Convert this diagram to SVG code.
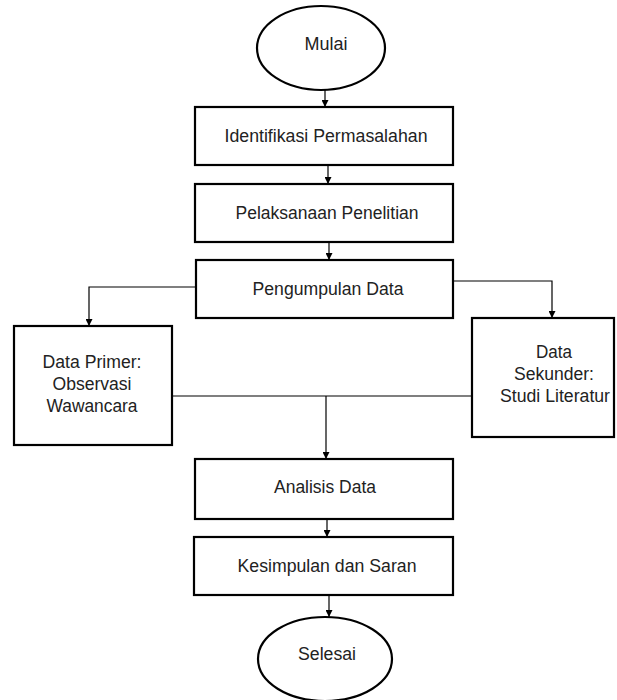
<svg xmlns="http://www.w3.org/2000/svg" width="617" height="700" viewBox="0 0 617 700">
<style>
.box{fill:#fff;stroke:#000;stroke-width:2.2}
.term{fill:#fff;stroke:#000;stroke-width:2.2}
.con{fill:none;stroke:#000;stroke-width:1.2}
text{font-family:"Liberation Sans",Arial,sans-serif;font-size:17.5px;fill:#222;text-anchor:middle}
</style>
<defs>
<marker id="ah" viewBox="0 0 8 8" refX="8" refY="4" markerWidth="7" markerHeight="7" markerUnits="userSpaceOnUse" orient="auto">
<path d="M0,0 L8,4 L0,8 Z" fill="#000"/>
</marker>
</defs>
<g id="connectors">
<line class="con" x1="325" y1="90" x2="325" y2="107" marker-end="url(#ah)"/>
<line class="con" x1="328" y1="165" x2="328" y2="184" marker-end="url(#ah)"/>
<line class="con" x1="329" y1="242" x2="329" y2="260" marker-end="url(#ah)"/>
<polyline class="con" points="196,287 89,287 89,326" marker-end="url(#ah)"/>
<polyline class="con" points="453,281 552,281 552,318" marker-end="url(#ah)"/>
<line class="con" x1="172" y1="396" x2="472" y2="396"/>
<line class="con" x1="326" y1="396" x2="326" y2="459" marker-end="url(#ah)"/>
<line class="con" x1="327" y1="519" x2="327" y2="537" marker-end="url(#ah)"/>
<line class="con" x1="329" y1="595" x2="329" y2="617" marker-end="url(#ah)"/>
</g>
<g id="mulai">
<ellipse class="term" cx="321" cy="48" rx="64" ry="42"/>
<text x="326" y="50" textLength="43" lengthAdjust="spacingAndGlyphs">Mulai</text>
</g>
<g id="identifikasi">
<rect class="box" x="195" y="107" width="258" height="58"/>
<text x="326" y="142" textLength="203" lengthAdjust="spacingAndGlyphs">Identifikasi Permasalahan</text>
</g>
<g id="pelaksanaan">
<rect class="box" x="195" y="184" width="258" height="58"/>
<text x="327" y="219" textLength="183" lengthAdjust="spacingAndGlyphs">Pelaksanaan Penelitian</text>
</g>
<g id="pengumpulan">
<rect class="box" x="196" y="260" width="257" height="58"/>
<text x="328" y="295" textLength="151" lengthAdjust="spacingAndGlyphs">Pengumpulan Data</text>
</g>
<g id="primer">
<rect class="box" x="14" y="326" width="158" height="119"/>
<text x="92" y="368" textLength="99" lengthAdjust="spacingAndGlyphs">Data Primer:</text>
<text x="92" y="390" textLength="79" lengthAdjust="spacingAndGlyphs">Observasi</text>
<text x="92" y="412" textLength="91" lengthAdjust="spacingAndGlyphs">Wawancara</text>
</g>
<g id="sekunder">
<rect class="box" x="472" y="318" width="142" height="119"/>
<text x="554" y="358" textLength="36" lengthAdjust="spacingAndGlyphs">Data</text>
<text x="554" y="380" textLength="80" lengthAdjust="spacingAndGlyphs">Sekunder:</text>
<text x="555" y="402" textLength="110" lengthAdjust="spacingAndGlyphs">Studi Literatur</text>
</g>
<g id="analisis">
<rect class="box" x="195" y="459" width="258" height="60"/>
<text x="325" y="493" textLength="102" lengthAdjust="spacingAndGlyphs">Analisis Data</text>
</g>
<g id="kesimpulan">
<rect class="box" x="194" y="537" width="259" height="58"/>
<text x="327" y="572" textLength="179" lengthAdjust="spacingAndGlyphs">Kesimpulan dan Saran</text>
</g>
<g id="selesai">
<ellipse class="term" cx="325" cy="659" rx="67" ry="42"/>
<text x="327" y="660" textLength="58" lengthAdjust="spacingAndGlyphs">Selesai</text>
</g>
</svg>
